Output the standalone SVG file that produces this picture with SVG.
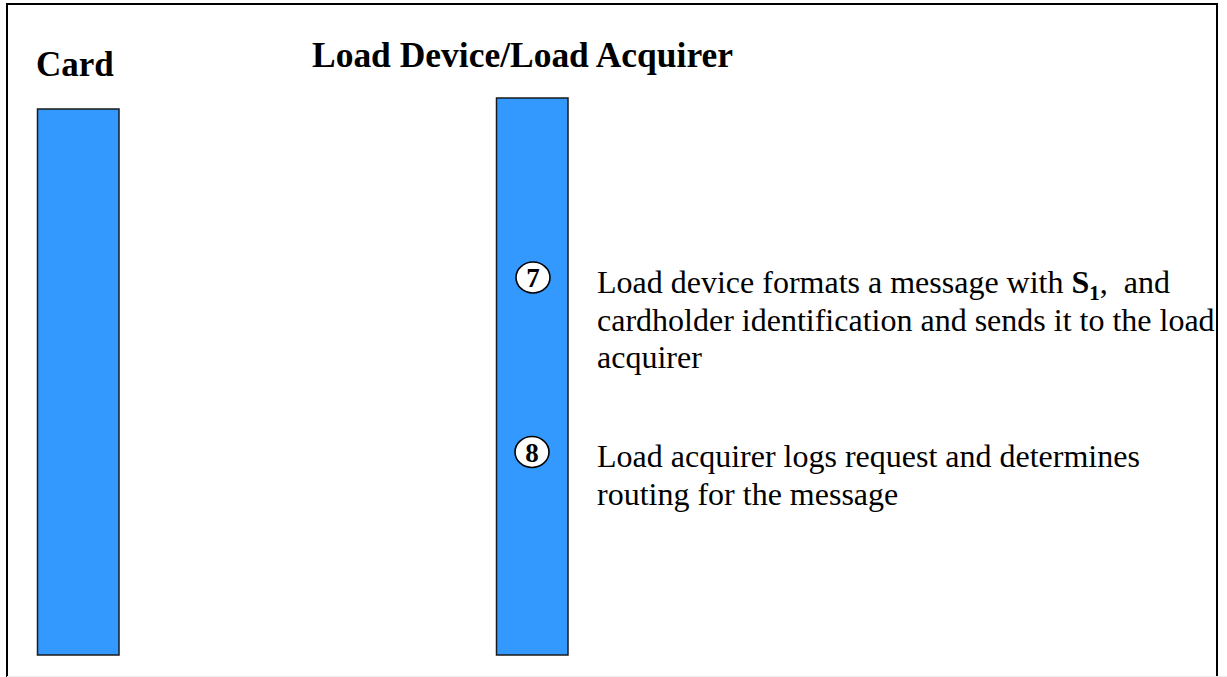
<svg xmlns="http://www.w3.org/2000/svg" width="1227" height="677" viewBox="0 0 1227 677">
  <style>
    .frame { fill: none; stroke: #000; stroke-width: 2; }
    .lane { fill: #3399FF; stroke: #1a1a1a; stroke-width: 1.5; }
    .title { font-family: "Liberation Serif", "Times New Roman", serif; font-weight: bold; font-size: 35px; fill: #000; }
    .body { font-family: "Liberation Serif", "Times New Roman", serif; font-size: 32px; fill: #000; }
    .step { fill: #fff; stroke: #000; stroke-width: 1.6; }
    .stepnum { font-family: "Liberation Serif", "Times New Roman", serif; font-weight: bold; font-size: 27px; fill: #000; text-anchor: middle; }
  </style>
  <rect width="1227" height="677" fill="#fff"/>
  <!-- outer frame (bottom edge falls outside the page) -->
  <path class="frame" d="M7,690 V4 H1217 V690"/>
  <line x1="7" y1="676.5" x2="1227" y2="676.5" stroke="#ececec" stroke-width="1"/>

  <g id="card">
    <text class="title" x="36" y="76">Card</text>
    <rect class="lane" x="37.5" y="109" width="81.5" height="546"/>
  </g>

  <g id="load-device">
    <text class="title" x="312" y="67" textLength="421" lengthAdjust="spacingAndGlyphs">Load Device/Load Acquirer</text>
    <rect class="lane" x="496.5" y="98" width="71.5" height="557"/>
  </g>

  <g id="step-7">
    <ellipse class="step" cx="533" cy="277.5" rx="17" ry="15.5"/>
    <text class="stepnum" x="533" y="287">7</text>
    <text class="body" x="597" y="293" xml:space="preserve">Load device formats a message with <tspan font-weight="bold">S</tspan><tspan font-weight="bold" font-size="21" dy="7">1</tspan><tspan dy="-7">,  and</tspan></text>
    <text class="body" x="597" y="330.5">cardholder identification and sends it to the load</text>
    <text class="body" x="597" y="368">acquirer</text>
  </g>

  <g id="step-8">
    <ellipse class="step" cx="532" cy="452" rx="17" ry="15.5"/>
    <text class="stepnum" x="532" y="461.5">8</text>
    <text class="body" x="597" y="467">Load acquirer logs request and determines</text>
    <text class="body" x="597" y="504.5">routing for the message</text>
  </g>
</svg>
